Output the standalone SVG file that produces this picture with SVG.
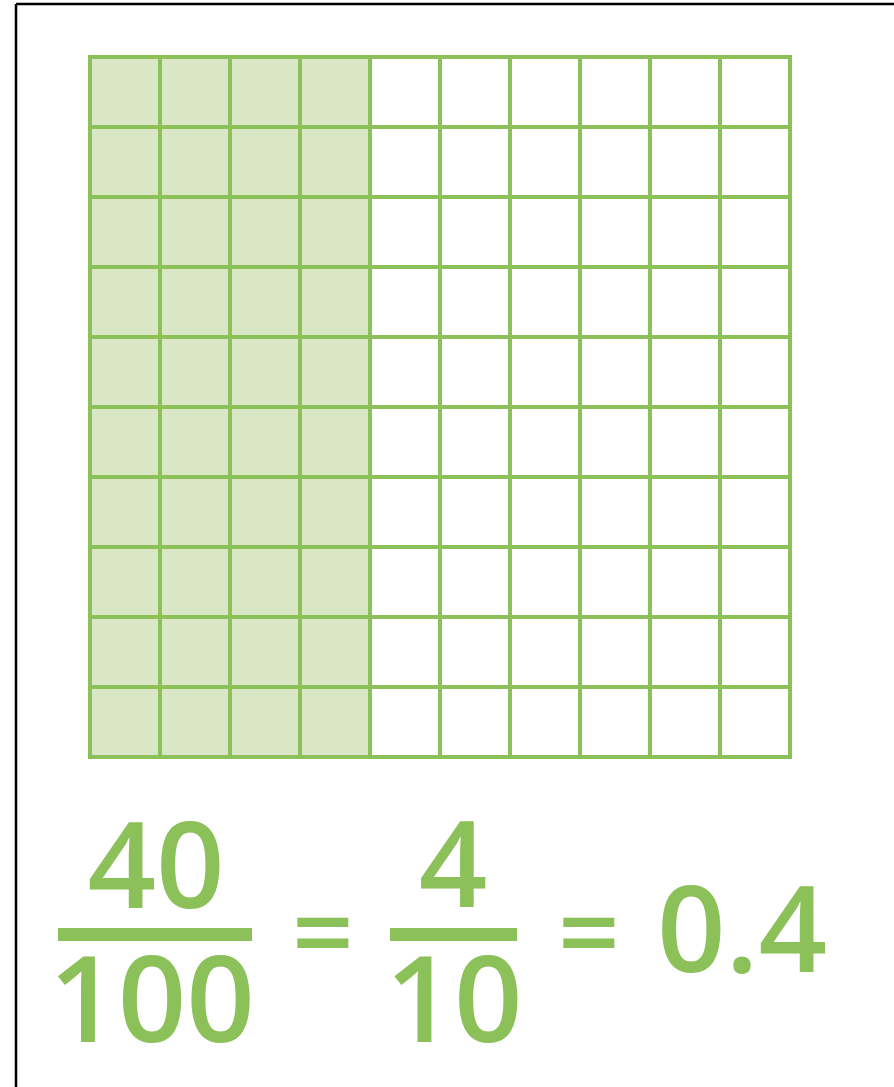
<svg xmlns="http://www.w3.org/2000/svg" width="894" height="1087" viewBox="0 0 894 1087">
<style>
.g{stroke:#8cc15a;stroke-width:4;fill:none}
.t{font-family:"Open Sans","Noto Sans",sans-serif;font-weight:600;fill:#8cc15a;font-size:120px;text-anchor:middle}
.eq{font-size:108px}
.bar{fill:#8cc15a}
</style>
<rect width="894" height="1087" fill="#fff"/>
<g id="frame" stroke="#000" stroke-width="2.5">
<line x1="16" y1="4" x2="894" y2="4"/>
<line x1="16" y1="4" x2="16" y2="1087"/>
</g>
<g id="grid">
<rect x="90" y="57" width="280" height="700" fill="#d9e7c6"/>
<path class="g" d="M90 57V757M160 57V757M230 57V757M300 57V757M370 57V757M440 57V757M510 57V757M580 57V757M650 57V757M720 57V757M790 57V757M88 57H792M88 127H792M88 197H792M88 267H792M88 337H792M88 407H792M88 477H792M88 547H792M88 617H792M88 687H792M88 757H792"/>
</g>
<g id="equation">
<text class="t" x="156" y="908">40</text>
<rect class="bar" x="58" y="928" width="194" height="13"/>
<text class="t" x="152" y="1042">100</text>
<text class="t eq" x="323" y="971">=</text>
<text class="t" x="453" y="907">4</text>
<rect class="bar" x="390" y="928" width="127" height="13"/>
<text class="t" x="454" y="1042">10</text>
<text class="t eq" x="589" y="971">=</text>
<text class="t" x="742" y="972">0.4</text>
</g>
</svg>
